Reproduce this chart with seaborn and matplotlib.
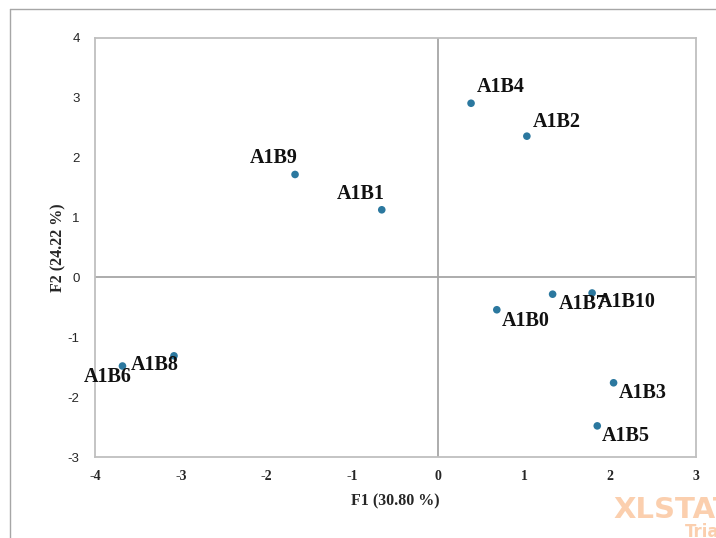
import matplotlib
matplotlib.use("Agg")
import matplotlib.pyplot as plt
import seaborn as sns
import pandas as pd
from matplotlib.lines import Line2D

# ---- data ----
labels = ["A1B4", "A1B2", "A1B9", "A1B1", "A1B7", "A1B10", "A1B0", "A1B3", "A1B5", "A1B6", "A1B8"]
f1 = [0.38, 1.03, -1.67, -0.66, 1.33, 1.79, 0.68, 2.04, 1.85, -3.68, -3.08]
f2 = [2.91, 2.36, 1.72, 1.13, -0.28, -0.26, -0.54, -1.76, -2.48, -1.48, -1.31]
x_ticks = [-4, -3, -2, -1, 0, 1, 2, 3]
y_ticks = [-3, -2, -1, 0, 1, 2, 3, 4]
x_title = "F1 (30.80 %)"
y_title = "F2 (24.22 %)"

# label placement (pixel offsets, alignment) - styling only
label_style = {
    "A1B4": (6, 16, "left"), "A1B2": (6, 14, "left"),
    "A1B9": (3, 16, "right"), "A1B1": (3, 16, "right"),
    "A1B7": (6, -10, "left"), "A1B10": (6, -9, "left"),
    "A1B0": (5, -11, "left"), "A1B3": (5, -10, "left"),
    "A1B5": (5, -10, "left"), "A1B6": (9, -11, "right"),
    "A1B8": (-43, -9, "left"),
}

df = pd.DataFrame({"F1": f1, "F2": f2, "label": labels})

sns.set_style("white")
fig = plt.figure(figsize=(7.16, 5.38), dpi=100)
ax = fig.add_axes([95/716, 1-457/538, (696-95)/716, (457-38)/538])

sns.scatterplot(data=df, x="F1", y="F2", ax=ax, color="#2b789f", s=30,
                edgecolor="none", zorder=3)

ax.set_xlim(-4, 3)
ax.set_ylim(-3, 4)
ax.set_xticks(x_ticks)
ax.set_yticks(y_ticks)
ax.set_xticklabels([str(t) for t in x_ticks], fontfamily="Liberation Serif",
                   fontweight="bold", fontsize=10)
ax.set_yticklabels([str(t) for t in y_ticks], fontfamily="Liberation Sans",
                   fontsize=9.5)
ax.tick_params(axis="both", length=0, pad=9)
ax.tick_params(axis="y", pad=11)

for s in ax.spines.values():
    s.set_color("#bfbfbf")
    s.set_linewidth(1.3)

ax.axhline(0, color="#a6a6a6", lw=1.3, zorder=1)
ax.axvline(0, color="#a6a6a6", lw=1.3, zorder=1)

ax.set_xlabel(x_title, fontfamily="Liberation Serif", fontweight="bold",
              fontsize=11.5, labelpad=8)
ax.set_ylabel(y_title, fontfamily="Liberation Serif", fontweight="bold",
              fontsize=11.5, labelpad=1)

for lab, x, y in zip(labels, f1, f2):
    dx, dy, ha = label_style[lab]
    ax.annotate(lab, (x, y), xytext=(dx, dy), textcoords="offset pixels",
                ha=ha, va="center", fontfamily="Liberation Serif",
                fontweight="bold", fontsize=14.5, color="#111111", zorder=4)

# outer chart frame
fig.add_artist(Line2D([10/716, 10/716], [1-9/538, 0], transform=fig.transFigure,
                      color="#a6a6a6", lw=1.0))
fig.add_artist(Line2D([10/716, 1], [1-9/538, 1-9/538], transform=fig.transFigure,
                      color="#a6a6a6", lw=1.0))

# watermark
fig.text(613/716, 1-510/538, "XLSTAT", color="#fbcfae", fontsize=21,
         fontweight="bold", fontfamily="DejaVu Sans", ha="left", va="center")
fig.text(685/716, 1-532/538, "Trial", color="#fbcfae", fontsize=12,
         fontweight="bold", fontfamily="DejaVu Sans", ha="left", va="center")

fig.savefig("out.png", dpi=100)
